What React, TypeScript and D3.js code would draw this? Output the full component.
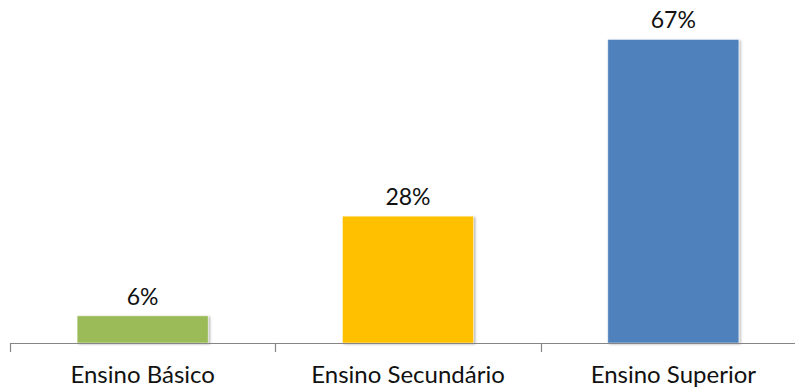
import React from "react";
import * as d3 from "d3";

// Share of respondents by education level (percent)
const categories = ["Ensino Básico", "Ensino Secundário", "Ensino Superior"];
const values = [6, 28, 67];
const colors = ["#9BBB59", "#FFC000", "#4F81BD"];

const W = 795;
const H = 389;
const baseY = 343;

export default function App() {
  const x = d3
    .scaleBand<string>()
    .domain(categories)
    .range([10, 806])
    .paddingInner(0.506)
    .paddingOuter(0.253);

  const y = d3.scaleLinear().domain([0, 70]).range([baseY, baseY - 70 * 4.53]);

  const step = x.step();
  const left = 10;
  const tickXs = d3.range(categories.length + 1).map((i) => left + i * step);
  const fmt = (v: number) => `${v}%`;

  return (
    <svg
      width={W}
      height={H}
      style={{ position: "absolute", left: 0, top: 0, background: "#fff" }}
      fontFamily="Lato, 'Open Sans', sans-serif"
    >
      <defs>
        <filter id="barShadow" x="-10%" y="-10%" width="120%" height="120%">
          <feDropShadow dx="1.5" dy="1" stdDeviation="1.2" floodColor="#000" floodOpacity="0.3" />
        </filter>
      </defs>

      {values.map((v, i) => {
        const c = categories[i];
        const bx = x(c) as number;
        const top = y(v);
        return (
          <g key={c}>
            <rect
              x={bx}
              y={top}
              width={x.bandwidth()}
              height={baseY - top}
              fill={colors[i]}
              stroke="#ffffff"
              strokeOpacity={0.6}
              strokeWidth={0.8}
              filter="url(#barShadow)"
            />
            <text
              x={bx + x.bandwidth() / 2}
              y={top - 11}
              textAnchor="middle"
              fontSize={23}
              fill="#111"
            >
              {fmt(v)}
            </text>
          </g>
        );
      })}

      {/* category axis */}
      <line x1={left} x2={W} y1={baseY + 0.5} y2={baseY + 0.5} stroke="#868686" strokeWidth={1.2} />
      {tickXs.map((tx, i) => (
        <line
          key={i}
          x1={Math.round(tx) + 0.5}
          x2={Math.round(tx) + 0.5}
          y1={baseY}
          y2={baseY + 9}
          stroke="#868686"
          strokeWidth={1.2}
        />
      ))}
      {categories.map((c) => (
        <text
          key={c}
          x={(x(c) as number) + x.bandwidth() / 2}
          y={383}
          textAnchor="middle"
          fontSize={24}
          fill="#111"
        >
          {c}
        </text>
      ))}
    </svg>
  );
}
